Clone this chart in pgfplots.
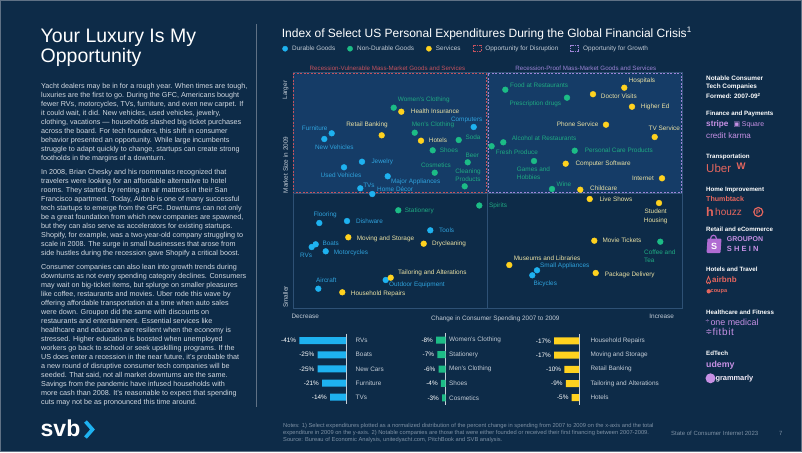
\documentclass[border=0pt]{standalone}
\usepackage{pgfplots}
\pgfplotsset{compat=1.18}
\usepackage{fontspec}
\setmainfont{Liberation Sans}
\newfontfamily\symfont{DejaVu Sans}

\definecolor{bg}{HTML}{0D2B48}
\definecolor{boxfill}{HTML}{153C67}
\definecolor{framec}{HTML}{2E5175}
\definecolor{dur}{HTML}{1EB2F0}
\definecolor{nondur}{HTML}{1CBC86}
\definecolor{serv}{HTML}{FFD21F}
\definecolor{durtxt}{HTML}{2FA2DC}
\definecolor{nondurtxt}{HTML}{1FAA82}
\definecolor{servtxt}{HTML}{EAE1A4}
\definecolor{disrc}{HTML}{C4525E}
\definecolor{growc}{HTML}{9C84D6}
\definecolor{bodytxt}{HTML}{D3DAE2}
\definecolor{axtxt}{HTML}{C3CCD6}
\definecolor{lilac}{HTML}{C690E4}
\definecolor{salmon}{HTML}{E5665E}
\definecolor{shop}{HTML}{B06CD2}
\definecolor{notec}{HTML}{7E91A5}
\definecolor{divc}{HTML}{5F7185}
\definecolor{barline}{HTML}{C9D1DA}

\newcommand{\fs}[2]{\fontsize{#1}{#2}\selectfont}
\tikzset{
  lab/.style={font=\fs{6.4}{8.3}, inner sep=0pt},
  dl/.style={lab, text=durtxt},
  nl/.style={lab, text=nondurtxt},
  sl/.style={lab, text=servtxt},
  rh/.style={anchor=west, inner sep=0pt, text=white, font=\fs{6.4}{7}\bfseries},
}
\pgfplotsset{
  barax/.style={
    scale only axis, xbar, bar width=7pt,
    ymin=-0.5, ymax=4.5, y dir=reverse,
    axis x line=none, axis y line=right, yticklabel pos=right,
    y axis line style={draw=barline, line width=0.8pt, -},
    ytick={0,1,2,3,4},
    major tick length=0pt,
    yticklabel style={font=\fs{6.4}{7}, text=axtxt, anchor=west, inner sep=0pt},
    point meta=x,
    nodes near coords={\pgfmathprintnumber[assume math mode=true]{\pgfplotspointmeta}\%},
    every node near coord/.append style={font=\fs{6.4}{7}, text=white, anchor=east, inner sep=3pt},
    clip=false,
  }
}

\begin{document}
\begin{tikzpicture}
\path[use as bounding box] (0pt,0pt) rectangle (802pt,-452pt);
\fill[bg] (0pt,0pt) rectangle (802pt,-452pt);

\begin{scope}[x=1pt,y=-1pt]
\draw[divc, line width=1pt] (0.5,0.5) rectangle (801.5,451.5);
\draw[divc, line width=0.8pt] (256,24) -- (256,407);
% ---- left panel
\node[anchor=north west, align=left, inner sep=0pt, text=white, font=\fs{19.5}{20}] at (40.5,29) {Your Luxury Is My\\Opportunity};
\node[anchor=north west, align=left, inner sep=0pt, text=bodytxt, font=\fs{7.2}{9}] at (41,82.6) {%
Yacht dealers may be in for a rough year. When times are tough,\\
luxuries are the first to go. During the GFC, Americans bought\\
fewer RVs, motorcycles, TVs, furniture, and even new carpet. If\\
it could wait, it did. New vehicles, used vehicles, jewelry,\\
clothing, vacations — households slashed big-ticket purchases\\
across the board. For tech founders, this shift in consumer\\
behavior presented an opportunity. While large incumbents\\
struggle to adapt quickly to change, startups can create strong\\
footholds in the margins of a downturn.\\[5.7pt]
In 2008, Brian Chesky and his roommates recognized that\\
travelers were looking for an affordable alternative to hotel\\
rooms. They started by renting an air mattress in their San\\
Francisco apartment. Today, Airbnb is one of many successful\\
tech startups to emerge from the GFC. Downturns can not only\\
be a great foundation from which new companies are spawned,\\
but they can also serve as accelerators for existing startups.\\
Shopify, for example, was a two-year-old company struggling to\\
scale in 2008. The surge in small businesses that arose from\\
side hustles during the recession gave Shopify a critical boost.\\[4.6pt]
Consumer companies can also lean into growth trends during\\
downturns as not every spending category declines. Consumers\\
may wait on big-ticket items, but splurge on smaller pleasures\\
like coffee, restaurants and movies. Uber rode this wave by\\
offering affordable transportation at a time when auto sales\\
were down. Groupon did the same with discounts on\\
restaurants and entertainment. Essential services like\\
healthcare and education are resilient when the economy is\\
stressed. Higher education is boosted when unemployed\\
workers go back to school or seek upskilling programs. If the\\
US does enter a recession in the near future, it’s probable that\\
a new round of disruptive consumer tech companies will be\\
seeded. That said, not all market downturns are the same.\\
Savings from the pandemic have infused households with\\
more cash than 2008. It’s reasonable to expect that spending\\
cuts may not be as pronounced this time around.};
\node[anchor=base west, inner sep=0pt, text=white, font=\fs{23}{23}\bfseries] at (40.5,436) {svb};
\draw[dur, line width=3.6pt] (85.5,421.5) -- (92.5,429.5) -- (85.5,437.5);

% ---- chart title
\node[anchor=base west, inner sep=0pt, text=white, font=\fs{12}{14}] at (281.7,37.3) {Index of Select US Personal Expenditures During the Global Financial Crisis\textsuperscript{1}};

% ---- right column
\node[rh] at (706,78.5) {Notable Consumer};
\node[rh] at (706,87.2) {Tech Companies};
\node[rh] at (706,95.9) {Formed: 2007-09\textsuperscript{2}};
\node[rh, font=\fs{6.2}{7}\bfseries] at (706,114) {Finance and Payments};
\node[anchor=west, inner sep=0pt, text=lilac, font=\fs{8.2}{9}\bfseries] at (706,124.7) {stripe};
\node[anchor=west, inner sep=0pt, text=lilac, font=\symfont\fs{7}{8}] at (733.3,124.7) {▣};
\node[anchor=west, inner sep=0pt, text=lilac, font=\fs{6.9}{8}] at (741.7,124.7) {Square};
\node[anchor=west, inner sep=0pt, text=lilac, font=\fs{8.1}{9}] at (706,135.7) {credit karma};
\node[rh, font=\fs{6.2}{7}\bfseries] at (706,157) {Transportation};
\node[anchor=west, inner sep=0pt, text=salmon, font=\fs{11.5}{12}] at (706,168) {Uber};
\node[anchor=west, inner sep=0pt, text=salmon, font=\fs{9.5}{10}\bfseries] at (736.5,166.5) {W};
\node[rh, font=\fs{6.2}{7}\bfseries] at (706,189.7) {Home Improvement};
\node[anchor=west, inner sep=0pt, text=salmon, font=\fs{7.1}{8}\bfseries] at (706,199.3) {Thumbtack};
\node[anchor=west, inner sep=0pt, text=salmon, font=\fs{12.5}{12}\bfseries] at (706,211.5) {h};
\node[anchor=west, inner sep=0pt, text=salmon, font=\fs{10}{11}] at (715,212) {houzz};
\node[circle, draw=salmon, line width=1.2pt, inner sep=0pt, minimum size=9pt, text=salmon, font=\fs{6.5}{7}\bfseries] at (758.3,212) {P};
\node[rh, font=\fs{6.2}{7}\bfseries] at (706,229.3) {Retail and eCommerce};
\fill[shop, rounded corners=1pt] (707.5,238.5) -- (721.5,238.5) -- (720.5,253) -- (706.5,253) -- cycle;
\draw[shop, line width=1.2pt] (710.5,239) .. controls (710.5,234) and (716.5,234) .. (716.5,239);
\node[text=white, font=\fs{9}{9}\bfseries, inner sep=0pt] at (714,246) {S};
\node[anchor=west, inner sep=0pt, text=lilac, font=\fs{7}{8}\bfseries] at (726.7,239) {GROUPON};
\node[anchor=west, inner sep=0pt, text=lilac, font=\fs{7.5}{8}\bfseries] at (726.7,249.3) {S\hspace{2.2pt}H\hspace{2.2pt}E\hspace{2.2pt}I\hspace{2.2pt}N};
\node[rh, font=\fs{6.2}{7}\bfseries] at (706,269.7) {Hotels and Travel};
\draw[salmon, line width=0.8pt] (708.5,276.5) -- (706.4,281.8) .. controls (706.2,284) and (708.5,284) .. (708.5,282.3) .. controls (708.5,284) and (710.8,284) .. (710.6,281.8) -- cycle;
\node[anchor=west, inner sep=0pt, text=salmon, font=\fs{8}{9}\bfseries] at (712,280) {airbnb};
\fill[salmon] (708.7,291.3) circle (2.2);
\node[anchor=west, inner sep=0pt, text=salmon, font=\fs{5.6}{6}\bfseries] at (710.5,291.3) {coupa};
\node[rh, font=\fs{6.2}{7}\bfseries] at (706,312) {Healthcare and Fitness};
\node[anchor=west, inner sep=0pt, text=lilac, font=\fs{7}{8}] at (705.5,322) {÷};
\node[anchor=west, inner sep=0pt, text=lilac, font=\fs{8.9}{9}] at (710.3,322) {one medical};
\node[anchor=west, inner sep=0pt, text=lilac, font=\symfont\fs{8}{9}] at (705.5,332.3) {≑};
\node[anchor=west, inner sep=0pt, text=lilac, font=\fs{10}{11}] at (712.3,332.3) {f\hspace{0.6pt}i\hspace{0.6pt}t\hspace{0.6pt}b\hspace{0.6pt}i\hspace{0.6pt}t};
\node[rh, font=\fs{6.2}{7}\bfseries] at (706,353.7) {EdTech};
\node[anchor=west, inner sep=0pt, text=lilac, font=\fs{8.8}{9}\bfseries] at (706,365) {udemy};
\fill[lilac] (710.5,378.3) circle (5);
\node[anchor=west, inner sep=0pt, text=white!85!lilac, font=\fs{7.4}{8}\bfseries] at (715.3,378.3) {grammarly};

% ---- footer
\node[anchor=west, align=left, inner sep=0pt, text=notec, font=\fs{5.75}{6.9}] at (283,433) {Notes: 1) Select expenditures plotted as a normalized distribution of the percent change in spending from 2007 to 2009 on the x-axis and the total\\expenditure in 2009 on the y-axis. 2) Notable companies are those that were either founded or received their first financing between 2007-2009.\\Source: Bureau of Economic Analysis, unitedyacht.com, PitchBook and SVB analysis.};
\node[anchor=west, inner sep=0pt, text=notec, font=\fs{6}{7}] at (671,433.5) {State of Consumer Internet 2023};
\node[anchor=west, inner sep=0pt, text=notec, font=\fs{6}{7}] at (779,433.5) {7};
\end{scope}

% ================= scatter
\begin{axis}[
  at={(293pt,-308pt)}, anchor=south west,
  scale only axis, width=389pt, height=236pt,
  xmin=293, xmax=682, ymin=72, ymax=308, y dir=reverse,
  axis line style={draw=framec, line width=0.6pt},
  xtick=\empty, ytick=\empty,
  clip=false,
  legend columns=5,
  legend cell align=left,
  legend style={at={(axis description cs:-0.028,1.0987)}, anchor=west, draw=none, fill=none,
     font=\fs{6.4}{7}, inner sep=0pt, nodes={text=axtxt},
     /tikz/every odd column/.append style={column sep=2.3pt},
     /tikz/every even column/.append style={column sep=10pt}},
]
\addplot[forget plot, framec, line width=0.6pt] coordinates {(487.2,72) (487.2,308)};
\addplot[forget plot, framec, line width=0.6pt] coordinates {(293,193.7) (682,193.7)};
\addplot[forget plot, fill=boxfill, draw=disrc, dash pattern=on 2pt off 1.5pt, line width=0.7pt]
  coordinates {(293.3,73.3) (486,73.3) (486,192.8) (293.3,192.8) (293.3,73.3)};
\addplot[forget plot, fill=boxfill, draw=growc, dash pattern=on 2pt off 1.5pt, line width=0.7pt]
  coordinates {(488.3,73.3) (681.7,73.3) (681.7,192.8) (488.3,192.8) (488.3,73.3)};

% Durable goods
\addplot[only marks, mark=*, mark size=2.9pt, color=dur, mark options={fill=dur, draw=dur},
  legend image code/.code={\fill[dur] (0pt,0pt) circle (2.6pt);}] coordinates {
 (331.7,133.3) (324.3,139) (473.7,127) (362,161.7) (344,167.3) (387.7,176.3)
 (360.3,188.3) (372.3,194) (319.3,223) (347,221) (430.3,230.3) (315.7,244.3)
 (311.7,247) (325.7,251.3) (318.3,288.7) (385.7,280) (537,270.3) (532.3,275.3)};
\addlegendentry{Durable Goods}
% Non-durable goods
\addplot[only marks, mark=*, mark size=2.9pt, color=nondur, mark options={fill=nondur, draw=nondur},
  legend image code/.code={\fill[nondur] (0pt,0pt) circle (2.6pt);}] coordinates {
 (393.7,107.7) (414.7,132.7) (458.7,140) (432.7,150.3) (467.7,162.3) (434.7,172.7)
 (464.7,186.3) (398.3,210.3) (479.3,205.5) (505.3,89.7) (567,97.7) (491.6,146.2)
 (503.3,142.3) (574.7,150.7) (534,161) (552,189) (660.3,241.7)};
\addlegendentry{Non-Durable Goods}
% Services
\addplot[only marks, mark=*, mark size=2.9pt, color=serv, mark options={fill=serv, draw=serv},
  legend image code/.code={\fill[serv] (0pt,0pt) circle (2.6pt);}] coordinates {
 (401.3,111.7) (381.7,135.3) (421,140.7) (624.3,87.7) (593,94.2) (632,106.7)
 (606,124.7) (654.7,137) (565.7,163.7) (662,178.3) (580.3,189.7) (589.7,199)
 (659,203) (594.3,240.7) (509.3,265) (595.7,273) (348.3,237.3) (423.7,243.7)
 (390.7,277.7) (342.3,292.3)};
\addlegendentry{Services}
\addlegendimage{legend image code/.code={\draw[disrc, dash pattern=on 1.5pt off 1pt, line width=0.6pt] (-4pt,-3pt) rectangle (4pt,3pt);}}
\addlegendentry{Opportunity for Disruption}
\addlegendimage{legend image code/.code={\draw[growc, dash pattern=on 1.5pt off 1pt, line width=0.6pt] (-4pt,-3pt) rectangle (4pt,3pt);}}
\addlegendentry{Opportunity for Growth}

% labels: durable
\node[dl, anchor=west] at (axis cs:301.7,128.3) {Furniture};
\node[dl] at (axis cs:334.3,147.7) {New Vehicles};
\node[dl] at (axis cs:466.7,120) {Computers};
\node[dl, anchor=west] at (axis cs:371.3,161.7) {Jewelry};
\node[dl] at (axis cs:341,175.7) {Used Vehicles};
\node[dl] at (axis cs:415.7,181.7) {Major Appliances};
\node[dl] at (axis cs:369,185.5) {TVs};
\node[dl, anchor=west] at (axis cs:377,188.7) {Home Décor};
\node[dl, anchor=west] at (axis cs:313.3,215.3) {Flooring};
\node[dl, anchor=west] at (axis cs:356,221) {Dishware};
\node[dl, anchor=west] at (axis cs:439,230.3) {Tools};
\node[dl, anchor=west] at (axis cs:322.3,243) {Boats};
\node[dl] at (axis cs:306,255.7) {RVs};
\node[dl, anchor=west] at (axis cs:333.7,253.3) {Motorcycles};
\node[dl, anchor=west] at (axis cs:316,280) {Aircraft};
\node[dl, anchor=west] at (axis cs:389,285) {Outdoor Equipment};
\node[dl, anchor=west] at (axis cs:540,266.3) {Small Appliances};
\node[dl, anchor=west] at (axis cs:533.3,284) {Bicycles};
% labels: non-durable
\node[nl, anchor=west] at (axis cs:397.7,100) {Women’s Clothing};
\node[nl, anchor=west] at (axis cs:411.7,125.3) {Men’s Clothing};
\node[nl, anchor=west] at (axis cs:465.3,137.3) {Soda};
\node[nl, anchor=west] at (axis cs:439.7,150.3) {Shoes};
\node[nl] at (axis cs:472.3,155) {Beer};
\node[nl] at (axis cs:436,165.3) {Cosmetics};
\node[nl, align=center] at (axis cs:468,175.5) {Cleaning\\Products};
\node[nl, anchor=west] at (axis cs:404.7,210.5) {Stationery};
\node[nl, anchor=west] at (axis cs:489,205.7) {Spirits};
\node[nl, anchor=west] at (axis cs:510,85.3) {Food at Restaurants};
\node[nl, anchor=west] at (axis cs:509.3,104) {Prescription drugs};
\node[nl, anchor=west] at (axis cs:495.7,152) {Fresh Produce};
\node[nl, anchor=west] at (axis cs:511.7,138.3) {Alcohol at Restaurants};
\node[nl, anchor=west] at (axis cs:584.7,150.7) {Personal Care Products};
\node[nl, align=left, anchor=west] at (axis cs:516.7,173.3) {Games and\\Hobbies};
\node[nl] at (axis cs:564,184.3) {Wine};
\node[nl, align=left, anchor=west] at (axis cs:644,256.2) {Coffee and\\Tea};
% labels: services
\node[sl, anchor=west] at (axis cs:410.7,111.7) {Health Insurance};
\node[sl] at (axis cs:367,124.7) {Retail Banking};
\node[sl, anchor=west] at (axis cs:428.7,140.7) {Hotels};
\node[sl] at (axis cs:642,81) {Hospitals};
\node[sl, anchor=west] at (axis cs:600.7,96) {Doctor Visits};
\node[sl, anchor=west] at (axis cs:640.7,106.7) {Higher Ed};
\node[sl, anchor=east] at (axis cs:598.7,124.7) {Phone Service};
\node[sl] at (axis cs:664.3,128.3) {TV Service};
\node[sl, anchor=west] at (axis cs:575.3,163.7) {Computer Software};
\node[sl, anchor=east] at (axis cs:654,178.3) {Internet};
\node[sl, anchor=west] at (axis cs:590,188.5) {Childcare};
\node[sl, anchor=west] at (axis cs:599.3,199) {Live Shows};
\node[sl, align=center] at (axis cs:655.7,216.4) {Student\\Housing};
\node[sl, anchor=west] at (axis cs:602.3,240.7) {Movie Tickets};
\node[sl, anchor=west] at (axis cs:513.7,258.3) {Museums and Libraries};
\node[sl, anchor=west] at (axis cs:604.7,274.7) {Package Delivery};
\node[sl, anchor=west] at (axis cs:356.7,239) {Moving and Storage};
\node[sl, anchor=west] at (axis cs:432,244) {Drycleaning};
\node[sl, anchor=west] at (axis cs:398,273) {Tailoring and Alterations};
\node[sl, anchor=west] at (axis cs:350.7,293.7) {Household Repairs};
% headers and axis text
\node[lab, font=\fs{6.2}{7}, text=disrc] at (axis cs:387.5,68) {Recession-Vulnerable Mass-Market Goods and Services};
\node[lab, font=\fs{6.2}{7}, text=growc] at (axis cs:585.8,68) {Recession-Proof Mass-Market Goods and Services};
\node[lab, text=axtxt, rotate=90] at (axis cs:285.5,90) {Larger};
\node[lab, text=axtxt, rotate=90] at (axis cs:285.5,165) {Market Size in 2009};
\node[lab, text=axtxt, rotate=90] at (axis cs:285.5,297) {Smaller};
\node[lab, text=axtxt, anchor=west] at (axis cs:291.3,316) {Decrease};
\node[lab, text=axtxt] at (axis cs:495.3,318.5) {Change in Consumer Spending 2007 to 2009};
\node[lab, text=axtxt] at (axis cs:661.7,316) {Increase};
\end{axis}

% ================= bar chart 1: durable
\begin{axis}[barax,
  at={(346pt,-404.2pt)}, anchor=south east,
  width=51.3pt, height=70.6pt, xmin=-45, xmax=0,
  yticklabels={RVs,Boats,New Cars,Furniture,TVs},
  yticklabel style={xshift=9.5pt},
]
\addplot[draw=none, fill=dur] coordinates {(-41,0) (-25,1) (-25,2) (-21,3) (-14,4)};
\end{axis}

% ================= bar chart 2: non-durable
\begin{axis}[barax,
  at={(445.7pt,-405pt)}, anchor=south east,
  width=12pt, height=72pt, xmin=-10, xmax=0,
  yticklabels={Women’s Clothing,Stationery,Men’s Clothing,Shoes,Cosmetics},
  yticklabel style={xshift=3.3pt},
]
\addplot[draw=none, fill=nondur] coordinates {(-8,0) (-7,1) (-6,2) (-4,3) (-3,4)};
\end{axis}

% ================= bar chart 3: services
\begin{axis}[barax,
  at={(579pt,-404.8pt)}, anchor=south east,
  width=29.4pt, height=71pt, xmin=-20, xmax=0,
  yticklabels={Household Repairs,Moving and Storage,Retail Banking,Tailoring and Alterations,Hotels},
  yticklabel style={xshift=11.3pt},
]
\addplot[draw=none, fill=serv] coordinates {(-17,0) (-17,1) (-10,2) (-9,3) (-5,4)};
\end{axis}
\end{tikzpicture}
\end{document}
